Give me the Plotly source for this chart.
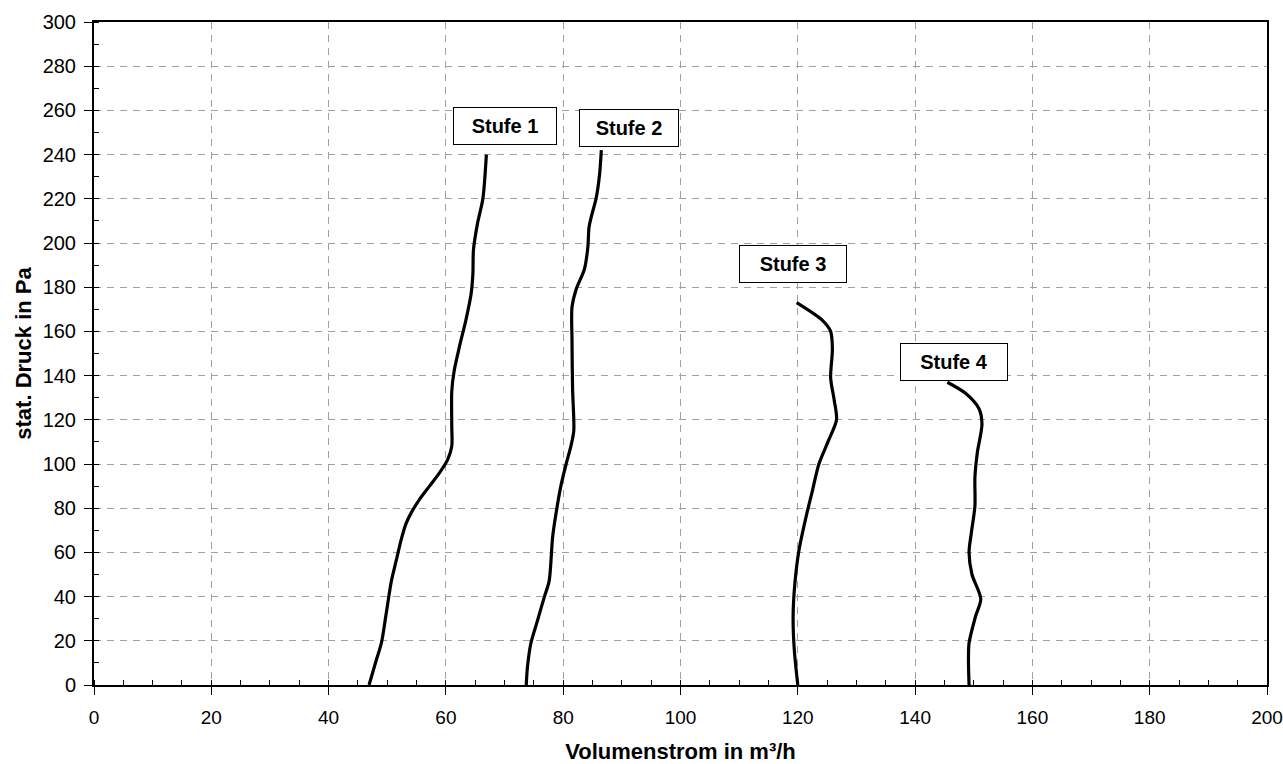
import plotly.graph_objects as go

# Stufe 1
s1_x = [46.9, 48.1, 49.0, 49.8, 50.7, 51.5, 52.4, 53.2, 54.1, 55.5, 57.2, 58.9, 60.3, 61.0, 61.0, 61.0, 61.4, 62.3, 63.4, 64.3, 64.6, 64.7, 65.4, 66.3, 66.9]
s1_y = [0, 11, 19, 32, 47, 56, 66, 73, 78, 84, 90, 96, 102, 108, 117, 133, 142, 153, 165, 177, 186, 197, 209, 220, 240]
# Stufe 2
s2_x = [73.7, 73.9, 74.5, 75.6, 76.8, 77.6, 78.2, 78.8, 79.6, 80.5, 81.3, 81.8, 81.6, 81.5, 81.5, 82.2, 83.6, 84.2, 84.4, 84.9, 85.6, 86.2, 86.5]
s2_y = [0, 8, 19, 29, 40, 47, 67, 78, 90, 100, 108, 115, 134, 156, 171, 179, 188, 198, 207, 213, 220, 231, 242]
# Stufe 3
s3_x = [120.0, 119.4, 119.2, 119.5, 120.2, 121.4, 122.5, 123.6, 125.3, 126.6, 126.2, 125.6, 125.9, 125.6, 124.2, 119.8]
s3_y = [0, 16, 31, 46, 61, 76, 88, 100, 111, 120, 129, 139, 152, 160, 165, 173]
# Stufe 4
s4_x = [149.2, 149.1, 149.2, 150.3, 151.2, 149.7, 149.2, 149.6, 150.2, 150.2, 150.6, 151.4, 150.9, 148.6, 145.5]
s4_y = [0, 11, 19, 31, 39, 50, 60, 69, 81, 94, 105, 118, 125, 132, 137]

labels = ["Stufe 1", "Stufe 2", "Stufe 3", "Stufe 4"]
label_x = [70.1, 91.3, 119.2, 146.6]
label_y = [252.8, 252.2, 190.4, 146.3]
label_w = [104, 100, 108, 108]

x_title = "Volumenstrom in m³/h"
y_title = "stat. Druck in Pa"

font_family = "Liberation Sans, Arial, sans-serif"

fig = go.Figure()
for xs, ys, name in zip([s1_x, s2_x, s3_x, s4_x], [s1_y, s2_y, s3_y, s4_y], labels):
    fig.add_trace(go.Scatter(x=xs, y=ys, mode="lines", name=name,
                             line=dict(color="black", width=3.2, shape="spline", smoothing=0.8)))

for t, lx, ly, w in zip(labels, label_x, label_y, label_w):
    fig.add_annotation(x=lx, y=ly, xref="x", yref="y", text="<b>%s</b>" % t,
                       showarrow=False, bgcolor="white", bordercolor="black",
                       borderwidth=1, borderpad=7, width=w - 16,
                       font=dict(family=font_family, size=20, color="black"))

axis_common = dict(
    showline=True, linecolor="black", linewidth=2, mirror=True,
    showgrid=True, gridcolor="#a0a0a0", griddash="7px,6px", gridwidth=1,
    zeroline=False, ticks="outside", ticklen=8, tickcolor="black", tickwidth=1,
    automargin=False, ticklabeloverflow="allow",
)

fig.update_layout(
    width=1283, height=764,
    margin=dict(l=94, r=16, t=22, b=79),
    paper_bgcolor="white", plot_bgcolor="white",
    showlegend=False,
    font=dict(family=font_family, color="black"),
    xaxis=dict(range=[0, 200], dtick=20, tick0=0,
               minor=dict(dtick=5, ticks="inside", ticklen=5, tickcolor="black", showgrid=False),
               title=dict(text="<b>%s</b>" % x_title, font=dict(family=font_family, size=22, color="black"), standoff=19),
               ticklabelstandoff=6,
               tickfont=dict(family=font_family, size=19, color="black"),
               **axis_common),
    yaxis=dict(range=[0, 300], dtick=20, tick0=0,
               minor=dict(dtick=10, ticks="inside", ticklen=5, tickcolor="black", showgrid=False),
               title=dict(text="<b>%s</b>" % y_title, font=dict(family=font_family, size=22, color="black"), standoff=5),
               ticklabelstandoff=4,
               tickfont=dict(family=font_family, size=20, color="black"),
               **axis_common),
)

fig.write_html("out.html",
               config={"displayModeBar": False},
               post_script="document.body.style.margin='0';document.body.style.overflow='hidden';")
